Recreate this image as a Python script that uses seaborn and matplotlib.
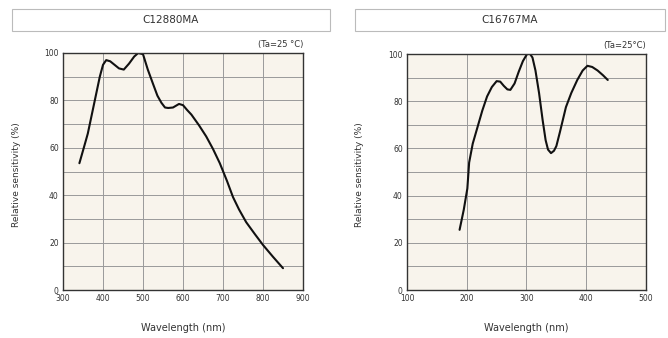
import seaborn as sns
import pandas as pd
import matplotlib.pyplot as plt
from matplotlib.patches import Rectangle


# C12880MA spectral response
wl_a = [341, 352, 362, 377, 392, 400, 408, 418, 429, 440, 452, 465, 478, 488, 500,
        512, 525, 536, 546, 555, 563, 575, 590, 600, 610, 621, 640, 658, 675, 692,
        710, 725, 740, 758, 780, 800, 825, 850]
sens_a = [53.5, 60, 66, 78, 90, 95, 97, 96.5, 95, 93.5, 93, 95.5, 98.5, 100, 99.5,
          93, 87, 82, 79, 77, 76.8, 77, 78.5, 78, 76, 74, 69.5, 64.8, 59.5, 53.5,
          46, 39.2, 34, 28.6, 23.5, 19, 14, 9.2]

# C16767MA spectral response
wl_b = [188, 195, 201, 204, 210, 218, 226, 234, 242, 250, 256, 262, 268, 273, 280,
        287, 294, 301, 306, 310, 315, 321, 327, 332, 336, 341, 346, 350, 356, 366,
        375, 385, 394, 402, 410, 419, 428, 436]
sens_b = [25.5, 34, 43, 54, 62, 69, 76, 82, 86, 88.5, 88.3, 86.5, 85, 84.8, 87.5,
          92.5, 97, 100, 100, 98.5, 93, 83.5, 72, 63.5, 59.5, 58, 59, 61, 67, 77.5,
          83.5, 89, 93, 95, 94.5, 93, 91, 89]

panels = [
    {"title": "C12880MA", "note": "(Ta=25 \u00b0C)", "x": wl_a, "y": sens_a,
     "xlim": (300, 900), "xticks": [300, 400, 500, 600, 700, 800, 900]},
    {"title": "C16767MA", "note": "(Ta=25\u00b0C)", "x": wl_b, "y": sens_b,
     "xlim": (100, 500), "xticks": [100, 200, 300, 400, 500]},
]

sns.set_theme(style="white")
plt.rcParams['font.family'] = ['DejaVu Sans']

fig = plt.figure(figsize=(6.68, 3.38), dpi=100)
fig.patch.set_facecolor("white")

axes_boxes = [[63 / 668, 48 / 338, 240 / 668, 237 / 338],
              [407 / 668, 48 / 338, 239 / 668, 236 / 338]]
title_boxes = [(12, 330), (355, 665)]
ylabel_x = [17, 359]

for i, p in enumerate(panels):
    ax = fig.add_axes(axes_boxes[i])
    ax.set_facecolor("#f8f4ec")
    df = pd.DataFrame({"Wavelength (nm)": p["x"], "Relative sensitivity (%)": p["y"]})
    sns.lineplot(data=df, x="Wavelength (nm)", y="Relative sensitivity (%)",
                 ax=ax, color="#111111", linewidth=1.5, sort=False)
    ax.set_xlim(*p["xlim"])
    ax.set_ylim(0, 100)
    ax.set_xticks(p["xticks"])
    ax.set_yticks(range(0, 101, 10), minor=True)
    ax.set_yticks(range(0, 101, 20))
    ax.grid(True, which="both", color="#9a9a9a", linewidth=0.7)
    ax.tick_params(axis="both", which="both", length=0, labelsize=5.5,
                   labelcolor="#333333", pad=3)
    for s in ax.spines.values():
        s.set_color("#333333")
        s.set_linewidth(1.0)
    ax.set_xlabel("Wavelength (nm)", fontsize=7, color="#333333", labelpad=14)
    ax.set_ylabel("")
    fig.text(ylabel_x[i] / 668, 0.5 - 6 / 338, "Relative sensitivity (%)",
             rotation=90, ha="center", va="center", fontsize=6.5, color="#333333")
    ax.text(1.0, 1.015, p["note"], transform=ax.transAxes, ha="right", va="bottom",
            fontsize=6, color="#333333")

    x0, x1 = title_boxes[i]
    fig.patches.append(Rectangle((x0 / 668, 1 - 31 / 338), (x1 - x0) / 668, 22 / 338,
                                 transform=fig.transFigure, facecolor="white",
                                 edgecolor="#bbbbbb", linewidth=0.8))
    fig.text((x0 + x1) / 2 / 668, 1 - 20 / 338, p["title"], ha="center", va="center",
             fontsize=7.5, color="#333333")

fig.savefig("out.png", dpi=100)
